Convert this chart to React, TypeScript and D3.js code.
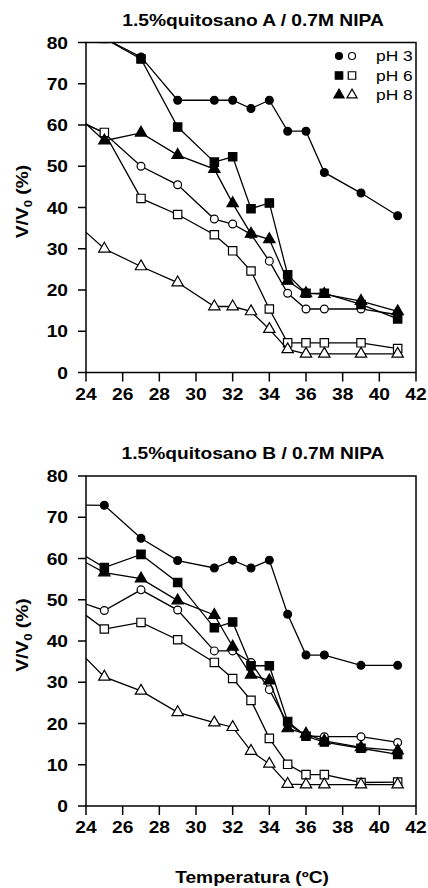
import React, { useEffect, useRef } from 'react';
import * as d3 from 'd3';

// temperatures (ºC); the 23 point sits left of the axis and is clipped
const temps = [23, 25, 27, 29, 31, 32, 33, 34, 35, 36, 37, 39, 41];
const xTicks = [24, 26, 28, 30, 32, 34, 36, 38, 40, 42];
const yTicks = [0, 10, 20, 30, 40, 50, 60, 70, 80];
const phLabels = ['pH 3', 'pH 6', 'pH 8'];

// 1.5% quitosano A / 0.7M NIPA  (filled / open markers)
const aPh3Fill = [83, 81, 76.5, 66, 66, 66, 64, 66, 58.5, 58.5, 48.5, 43.5, 38];
const aPh3Open = [62.5, 58, 50, 45.5, 37.2, 36, 33.5, 27, 19.2, 15.4, 15.4, 15.4, 14];
const aPh6Fill = [84, 81, 76, 59.5, 51, 52.3, 39.7, 41.1, 23.7, 19.2, 19.2, 16.5, 13];
const aPh6Open = [62, 58.2, 42.2, 38.3, 33.4, 29.5, 24.6, 15.4, 7.2, 7.2, 7.2, 7.2, 5.8];
const aPh8Fill = [64.3, 56.2, 58.1, 52.7, 49.3, 41, 33.6, 32.3, 22.2, 19.2, 19, 17.3, 14.8];
const aPh8Open = [38, 30, 25.7, 21.8, 16, 16, 14.8, 10.5, 5.6, 4.5, 4.5, 4.5, 4.5];

// 1.5% quitosano B / 0.7M NIPA
const bPh3Fill = [73, 72.9, 64.9, 59.5, 57.7, 59.6, 57.7, 59.6, 46.5, 36.6, 36.6, 34.1, 34.1];
const bPh3Open = [50.5, 47.4, 52.4, 47.5, 37.6, 37.6, 34.8, 28.2, 20, 17, 16.8, 16.8, 15.4];
const bPh6Fill = [63.2, 57.8, 61, 54.2, 43.2, 44.6, 34, 34, 20.5, 16.9, 15.5, 14, 12.5];
const bPh6Open = [49.5, 42.9, 44.5, 40.3, 34.8, 30.9, 25.6, 16.4, 10.1, 7.6, 7.6, 5.7, 5.8];
const bPh8Fill = [61.4, 56.6, 55.1, 49.8, 46.3, 38.6, 31.8, 30.4, 18.8, 17.5, 15.8, 14.2, 13.4];
const bPh8Open = [40.3, 31.3, 27.9, 22.7, 20.2, 19.1, 13.3, 10.2, 5.3, 5.2, 5.2, 5.2, 5.2];

const FONT = '"Liberation Sans", Arial, Helvetica, sans-serif';
const STRETCH = 'scale(1.2,1)';
const symbols = [d3.symbolCircle, d3.symbolSquare, d3.symbolTriangle];
const symSize = [48, 70, 56];

function drawPanel(svg, id, top, title, series, legend) {
    const left = 86, right = 416, bottom = top + 330;
    const x = d3.scaleLinear().domain([24, 42]).range([left, right]);
    const y = d3.scaleLinear().domain([0, 80]).range([bottom, top]);

    svg.append('text')
        .attr('transform', 'translate(' + ((left + right) / 2 + 2) + ',' + (top - 17) + ') ' + STRETCH)
        .attr('text-anchor', 'middle')
        .style('font', 'bold 16px ' + FONT)
        .text(title);

    svg.append('clipPath').attr('id', id)
        .append('rect').attr('x', left).attr('y', top).attr('width', right - left).attr('height', bottom - top);

    const g = svg.append('g').attr('clip-path', 'url(#' + id + ')');
    const line = d3.line().x(d => x(d[0])).y(d => y(d[1]));

    series.forEach(s => {
        const pts = temps.map((t, i) => [t, s.values[i]]);
        g.append('path').attr('d', line(pts))
            .attr('fill', 'none').attr('stroke', '#000').attr('stroke-width', 1.3);
        g.selectAll(null).data(pts).enter().append('path')
            .attr('transform', d => 'translate(' + x(d[0]) + ',' + y(d[1]) + ')')
            .attr('d', d3.symbol().type(symbols[s.ph]).size(symSize[s.ph]))
            .attr('fill', s.filled ? '#000' : '#fff')
            .attr('stroke', '#000').attr('stroke-width', 1.2);
    });

    // frame
    svg.append('rect').attr('x', left).attr('y', top).attr('width', right - left).attr('height', bottom - top)
        .attr('fill', 'none').attr('stroke', '#000').attr('stroke-width', 1.5);

    // y ticks
    yTicks.forEach(v => {
        svg.append('line').attr('x1', left - 8).attr('x2', left).attr('y1', y(v)).attr('y2', y(v))
            .attr('stroke', '#000').attr('stroke-width', 1.5);
        svg.append('text')
            .attr('transform', 'translate(68,' + (y(v) + 6) + ') ' + STRETCH)
            .attr('text-anchor', 'end')
            .style('font', 'bold 16px ' + FONT)
            .text(v);
    });
    // x ticks
    xTicks.forEach(v => {
        svg.append('line').attr('x1', x(v)).attr('x2', x(v)).attr('y1', bottom).attr('y2', bottom + 9)
            .attr('stroke', '#000').attr('stroke-width', 1.5);
        svg.append('text')
            .attr('transform', 'translate(' + x(v) + ',' + (bottom + 27) + ') ' + STRETCH)
            .attr('text-anchor', 'middle')
            .style('font', 'bold 16px ' + FONT)
            .text(v);
    });

    // y title
    const yt = svg.append('text')
        .attr('transform', 'translate(28,' + ((top + bottom) / 2 - 6) + ') rotate(-90) ' + STRETCH)
        .attr('text-anchor', 'middle')
        .style('font', 'bold 16px ' + FONT);
    yt.append('tspan').text('V/V');
    yt.append('tspan').attr('dy', 4).style('font-size', '11px').text('0');
    yt.append('tspan').attr('dy', -4).text(' (%)');

    if (legend) {
        phLabels.forEach((lab, i) => {
            const ly = top + 13.5 + i * 19.5;
            [339, 352].forEach((lx, j) => {
                svg.append('path')
                    .attr('transform', 'translate(' + lx + ',' + ly + ')')
                    .attr('d', d3.symbol().type(symbols[i]).size(symSize[i] * 0.8))
                    .attr('fill', j === 0 ? '#000' : '#fff')
                    .attr('stroke', '#000').attr('stroke-width', 1.2);
            });
            svg.append('text')
                .attr('transform', 'translate(376,' + (ly + 5) + ') ' + STRETCH)
                .style('font', '14.5px ' + FONT)
                .text(lab);
        });
    }
}

export default function App() {
    const ref = useRef(null);

    useEffect(() => {
        const svg = d3.select(ref.current);
        svg.selectAll('*').remove();

        drawPanel(svg, 'clipA', 42.5, '1.5%quitosano A / 0.7M NIPA', [
            {ph: 0, filled: true, values: aPh3Fill},
            {ph: 0, filled: false, values: aPh3Open},
            {ph: 1, filled: true, values: aPh6Fill},
            {ph: 1, filled: false, values: aPh6Open},
            {ph: 2, filled: true, values: aPh8Fill},
            {ph: 2, filled: false, values: aPh8Open},
        ], true);

        drawPanel(svg, 'clipB', 476, '1.5%quitosano B / 0.7M NIPA', [
            {ph: 0, filled: true, values: bPh3Fill},
            {ph: 0, filled: false, values: bPh3Open},
            {ph: 1, filled: true, values: bPh6Fill},
            {ph: 1, filled: false, values: bPh6Open},
            {ph: 2, filled: true, values: bPh8Fill},
            {ph: 2, filled: false, values: bPh8Open},
        ], false);

        svg.append('text')
            .attr('transform', 'translate(252,883) ' + STRETCH)
            .attr('text-anchor', 'middle')
            .style('font', 'bold 16px ' + FONT)
            .text('Temperatura (ºC)');
    }, []);

    return (
        <svg ref={ref} width={428} height={888}
             style={{position: 'absolute', left: 0, top: 0, background: '#fff'}} />
    );
}
